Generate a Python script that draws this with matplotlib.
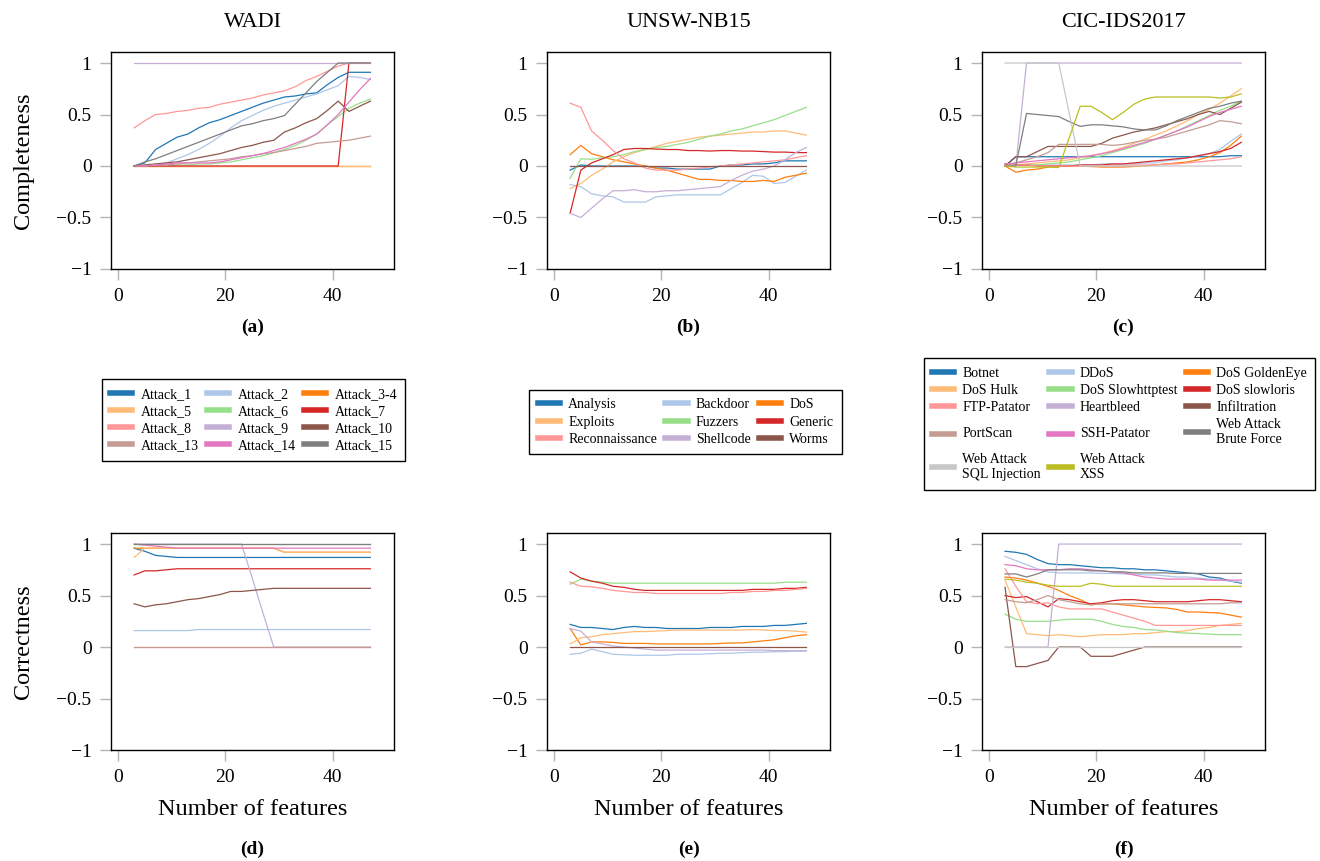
import matplotlib
matplotlib.use("Agg")
import matplotlib.pyplot as plt

plt.rcParams['font.family'] = ['Liberation Serif', 'DejaVu Serif']

n_features = [3, 5, 7, 9, 11, 13, 15, 17, 19, 21, 23, 25, 27, 29, 31, 33, 35, 37, 39, 41, 43, 45, 47]

palette = ['#1f77b4', '#aec7e8', '#ff7f0e', '#ffbb78', '#98df8a', '#d62728', '#ff9896',
           '#c5b0d5', '#8c564b', '#c49c94', '#e377c2', '#7f7f7f', '#c7c7c7', '#bcbd22']

# ---------------- WADI ----------------
wadi_names = ['Attack_1', 'Attack_2', 'Attack_3-4', 'Attack_5', 'Attack_6', 'Attack_7',
              'Attack_8', 'Attack_9', 'Attack_10', 'Attack_13', 'Attack_14', 'Attack_15']
wadi_compl = [
    [0, 0.03, 0.16, 0.22, 0.28, 0.31, 0.37, 0.42, 0.45, 0.49, 0.53, 0.57, 0.61, 0.64, 0.67, 0.68, 0.70, 0.71, 0.79, 0.86, 0.91, 0.91, 0.91],
    [0, 0, 0.01, 0.03, 0.07, 0.11, 0.16, 0.22, 0.29, 0.37, 0.44, 0.49, 0.54, 0.58, 0.61, 0.64, 0.67, 0.70, 0.74, 0.78, 0.87, 0.86, 0.84],
    [0, 0, 0, 0, 0, 0, 0, 0, 0, 0, 0, 0, 0, 0, 0, 0, 0, 0, 0, 0, 0, 0, 0],
    [0, 0, 0, 0, 0, 0, 0, 0, 0, 0, 0, 0, 0, 0, 0, 0, 0, 0, 0, 0, 0, 0, 0],
    [0, 0, 0, 0, 0.01, 0.01, 0.02, 0.02, 0.03, 0.04, 0.06, 0.08, 0.10, 0.13, 0.16, 0.20, 0.25, 0.31, 0.40, 0.48, 0.56, 0.61, 0.65],
    [0, 0, 0, 0, 0, 0, 0, 0, 0, 0, 0, 0, 0, 0, 0, 0, 0, 0, 0, 0, 1, 1, 1],
    [0.37, 0.44, 0.50, 0.51, 0.53, 0.54, 0.56, 0.57, 0.60, 0.62, 0.64, 0.66, 0.69, 0.71, 0.73, 0.77, 0.83, 0.87, 0.92, 0.97, 1, 1, 1],
    [1, 1, 1, 1, 1, 1, 1, 1, 1, 1, 1, 1, 1, 1, 1, 1, 1, 1, 1, 1, 1, 1, 1],
    [0, 0.01, 0.02, 0.03, 0.04, 0.06, 0.08, 0.10, 0.12, 0.15, 0.18, 0.20, 0.23, 0.25, 0.33, 0.37, 0.42, 0.46, 0.54, 0.63, 0.53, 0.58, 0.63],
    [0, 0, 0.01, 0.01, 0.02, 0.03, 0.04, 0.05, 0.06, 0.07, 0.09, 0.10, 0.12, 0.13, 0.15, 0.17, 0.19, 0.22, 0.23, 0.24, 0.25, 0.27, 0.29],
    [0, 0, 0.01, 0.02, 0.03, 0.03, 0.03, 0.03, 0.04, 0.06, 0.08, 0.10, 0.12, 0.15, 0.18, 0.22, 0.26, 0.31, 0.40, 0.50, 0.62, 0.74, 0.85],
    [0, 0.04, 0.07, 0.11, 0.15, 0.19, 0.23, 0.27, 0.31, 0.35, 0.39, 0.41, 0.44, 0.46, 0.49, 0.60, 0.71, 0.82, 0.91, 1, 1, 1, 1],
]
wadi_corr = [
    [0.96, 0.93, 0.89, 0.88, 0.87, 0.87, 0.87, 0.87, 0.87, 0.87, 0.87, 0.87, 0.87, 0.87, 0.87, 0.87, 0.87, 0.87, 0.87, 0.87, 0.87, 0.87, 0.87],
    [0.16, 0.16, 0.16, 0.16, 0.16, 0.16, 0.17, 0.17, 0.17, 0.17, 0.17, 0.17, 0.17, 0.17, 0.17, 0.17, 0.17, 0.17, 0.17, 0.17, 0.17, 0.17, 0.17],
    [0.96, 0.96, 0.96, 0.96, 0.96, 0.96, 0.96, 0.96, 0.96, 0.96, 0.96, 0.96, 0.96, 0.96, 0.92, 0.92, 0.92, 0.92, 0.92, 0.92, 0.92, 0.92, 0.92],
    [0.87, 0.96, 0.96, 0.96, 0.96, 0.96, 0.96, 0.96, 0.96, 0.96, 0.96, 0.96, 0.96, 0.96, 0.92, 0.92, 0.92, 0.92, 0.92, 0.92, 0.92, 0.92, 0.92],
    [1, 1, 1, 1, 1, 1, 1, 1, 1, 1, 1, 1, 1, 1, 1, 1, 1, 1, 1, 1, 1, 1, 1],
    [0.70, 0.74, 0.74, 0.75, 0.76, 0.76, 0.76, 0.76, 0.76, 0.76, 0.76, 0.76, 0.76, 0.76, 0.76, 0.76, 0.76, 0.76, 0.76, 0.76, 0.76, 0.76, 0.76],
    [0, 0, 0, 0, 0, 0, 0, 0, 0, 0, 0, 0, 0, 0, 0, 0, 0, 0, 0, 0, 0, 0, 0],
    [1, 1, 1, 1, 1, 1, 1, 1, 1, 1, 1, 0.67, 0.33, 0, 0, 0, 0, 0, 0, 0, 0, 0, 0],
    [0.42, 0.39, 0.41, 0.42, 0.44, 0.46, 0.47, 0.49, 0.51, 0.54, 0.54, 0.55, 0.56, 0.57, 0.57, 0.57, 0.57, 0.57, 0.57, 0.57, 0.57, 0.57, 0.57],
    [0, 0, 0, 0, 0, 0, 0, 0, 0, 0, 0, 0, 0, 0, 0, 0, 0, 0, 0, 0, 0, 0, 0],
    [1, 0.99, 0.98, 0.97, 0.96, 0.96, 0.96, 0.96, 0.96, 0.96, 0.96, 0.96, 0.96, 0.96, 0.96, 0.96, 0.96, 0.96, 0.96, 0.96, 0.96, 0.96, 0.96],
    [1, 1, 1, 1, 1, 1, 1, 1, 1, 1, 1, 1, 1, 1, 1, 1, 1, 1, 1, 1, 1, 1, 1],
]

# ---------------- UNSW-NB15 ----------------
unsw_names = ['Analysis', 'Backdoor', 'DoS', 'Exploits', 'Fuzzers', 'Generic',
              'Reconnaissance', 'Shellcode', 'Worms']
unsw_compl = [
    [-0.04, 0.01, 0, 0, 0, 0, 0, 0, -0.02, -0.02, -0.03, -0.03, -0.03, -0.03, 0, 0.01, 0.01, 0.02, 0.02, 0.03, 0.05, 0.05, 0.05],
    [-0.18, -0.20, -0.27, -0.29, -0.30, -0.35, -0.35, -0.35, -0.30, -0.29, -0.28, -0.28, -0.28, -0.28, -0.28, -0.22, -0.16, -0.09, -0.10, -0.17, -0.16, -0.10, -0.04],
    [0.11, 0.20, 0.12, 0.09, 0.06, 0.04, 0.02, 0, -0.02, -0.04, -0.07, -0.10, -0.13, -0.13, -0.14, -0.14, -0.15, -0.15, -0.14, -0.15, -0.11, -0.09, -0.07],
    [-0.22, -0.17, -0.09, -0.03, 0.04, 0.09, 0.13, 0.16, 0.19, 0.22, 0.24, 0.26, 0.28, 0.29, 0.30, 0.31, 0.32, 0.33, 0.33, 0.34, 0.34, 0.32, 0.30],
    [-0.12, 0.07, 0.065, 0.08, 0.09, 0.11, 0.14, 0.16, 0.18, 0.19, 0.21, 0.23, 0.26, 0.29, 0.31, 0.34, 0.36, 0.39, 0.42, 0.45, 0.49, 0.53, 0.57],
    [-0.46, -0.04, 0.03, 0.07, 0.11, 0.16, 0.17, 0.17, 0.165, 0.16, 0.16, 0.15, 0.15, 0.145, 0.15, 0.15, 0.145, 0.145, 0.14, 0.135, 0.135, 0.13, 0.13],
    [0.61, 0.57, 0.34, 0.25, 0.15, 0.07, 0.03, -0.02, -0.04, -0.04, -0.04, -0.03, -0.02, -0.01, 0, 0.01, 0.02, 0.03, 0.04, 0.05, 0.06, 0.08, 0.10],
    [-0.46, -0.50, -0.41, -0.32, -0.24, -0.24, -0.23, -0.25, -0.25, -0.24, -0.24, -0.23, -0.22, -0.21, -0.20, -0.14, -0.09, -0.05, -0.03, 0, 0.06, 0.13, 0.18],
    [0, 0, 0, 0, 0, 0, 0, 0, 0, 0, 0, 0, 0, 0, 0, 0, 0, 0, 0, 0, 0, 0, 0],
]
unsw_corr = [
    [0.22, 0.19, 0.19, 0.18, 0.17, 0.19, 0.20, 0.19, 0.19, 0.18, 0.18, 0.18, 0.18, 0.19, 0.19, 0.19, 0.20, 0.20, 0.20, 0.21, 0.21, 0.22, 0.23],
    [-0.07, -0.06, -0.02, -0.045, -0.07, -0.075, -0.08, -0.08, -0.08, -0.08, -0.07, -0.07, -0.07, -0.065, -0.06, -0.06, -0.055, -0.05, -0.05, -0.045, -0.045, -0.04, -0.04],
    [0.18, 0.02, 0.05, 0.05, 0.045, 0.035, 0.035, 0.035, 0.03, 0.03, 0.03, 0.03, 0.03, 0.03, 0.035, 0.04, 0.04, 0.05, 0.06, 0.07, 0.09, 0.11, 0.12],
    [0.03, 0.09, 0.10, 0.12, 0.13, 0.14, 0.15, 0.15, 0.155, 0.16, 0.165, 0.165, 0.165, 0.165, 0.165, 0.165, 0.165, 0.17, 0.165, 0.16, 0.16, 0.155, 0.145],
    [0.61, 0.66, 0.64, 0.63, 0.62, 0.62, 0.62, 0.62, 0.62, 0.62, 0.62, 0.62, 0.62, 0.62, 0.62, 0.62, 0.62, 0.62, 0.62, 0.62, 0.63, 0.63, 0.63],
    [0.73, 0.67, 0.64, 0.62, 0.59, 0.58, 0.56, 0.55, 0.55, 0.55, 0.55, 0.55, 0.55, 0.55, 0.55, 0.55, 0.55, 0.56, 0.56, 0.56, 0.57, 0.57, 0.58],
    [0.63, 0.59, 0.585, 0.57, 0.55, 0.54, 0.53, 0.53, 0.52, 0.52, 0.52, 0.52, 0.52, 0.52, 0.52, 0.53, 0.53, 0.54, 0.54, 0.55, 0.55, 0.56, 0.57],
    [0.18, 0.155, 0.05, 0.03, 0.01, 0, -0.01, -0.02, -0.03, -0.03, -0.03, -0.03, -0.03, -0.03, -0.03, -0.03, -0.03, -0.03, -0.03, -0.035, -0.035, -0.035, -0.035],
    [0, 0, 0, 0, 0, 0, 0, 0, 0, 0, 0, 0, 0, 0, 0, 0, 0, 0, 0, 0, 0, 0, 0],
]

# ---------------- CIC-IDS2017 ----------------
cic_names = ['Botnet', 'DDoS', 'DoS GoldenEye', 'DoS Hulk', 'DoS Slowhttptest', 'DoS slowloris',
             'FTP-Patator', 'Heartbleed', 'Infiltration', 'PortScan', 'SSH-Patator',
             'Web Attack\nBrute Force', 'Web Attack\nSQL Injection', 'Web Attack\nXSS']
cic_compl = [
    [0, 0.09, 0.09, 0.09, 0.09, 0.09, 0.09, 0.09, 0.09, 0.09, 0.09, 0.09, 0.09, 0.09, 0.09, 0.09, 0.09, 0.09, 0.09, 0.09, 0.09, 0.10, 0.10],
    [0.01, 0.01, 0.01, 0.01, 0.01, 0.01, 0.01, 0.01, 0.01, 0.02, 0.02, 0.02, 0.02, 0.03, 0.03, 0.05, 0.06, 0.08, 0.10, 0.12, 0.16, 0.24, 0.31],
    [0, -0.06, -0.04, -0.03, -0.01, 0, 0, 0, -0.005, -0.01, -0.01, -0.01, -0.005, 0, 0.01, 0.02, 0.03, 0.04, 0.06, 0.09, 0.13, 0.20, 0.29],
    [0, 0.01, 0.02, 0.03, 0.04, 0.05, 0.06, 0.08, 0.10, 0.12, 0.15, 0.18, 0.22, 0.26, 0.30, 0.34, 0.39, 0.44, 0.50, 0.55, 0.61, 0.68, 0.75],
    [0, 0.01, 0.01, 0.01, 0.02, 0.03, 0.04, 0.06, 0.08, 0.10, 0.13, 0.16, 0.19, 0.22, 0.26, 0.30, 0.34, 0.39, 0.44, 0.49, 0.54, 0.58, 0.63],
    [0.02, 0.01, 0.01, 0, 0, 0, 0, 0.01, 0.01, 0.01, 0.02, 0.02, 0.03, 0.04, 0.05, 0.06, 0.07, 0.08, 0.10, 0.12, 0.14, 0.17, 0.23],
    [0.02, 0.01, 0.01, 0, 0, 0, 0, 0, 0, 0, 0, 0, 0.01, 0.01, 0.01, 0.02, 0.02, 0.03, 0.04, 0.05, 0.06, 0.07, 0.09],
    [0, 0, 1, 1, 1, 1, 1, 1, 1, 1, 1, 1, 1, 1, 1, 1, 1, 1, 1, 1, 1, 1, 1],
    [0, 0.09, 0.09, 0.14, 0.19, 0.19, 0.19, 0.19, 0.19, 0.22, 0.27, 0.30, 0.33, 0.35, 0.37, 0.40, 0.43, 0.46, 0.50, 0.53, 0.50, 0.56, 0.62],
    [0, 0.03, 0.06, 0.09, 0.13, 0.21, 0.21, 0.21, 0.21, 0.21, 0.20, 0.21, 0.23, 0.25, 0.26, 0.28, 0.31, 0.34, 0.37, 0.40, 0.44, 0.43, 0.41],
    [0.02, 0.03, 0.04, 0.05, 0.06, 0.07, 0.08, 0.09, 0.10, 0.12, 0.14, 0.17, 0.20, 0.23, 0.26, 0.30, 0.34, 0.38, 0.43, 0.48, 0.52, 0.55, 0.58],
    [0, 0, 0.51, 0.50, 0.49, 0.48, 0.43, 0.385, 0.40, 0.40, 0.39, 0.38, 0.36, 0.35, 0.35, 0.39, 0.44, 0.48, 0.52, 0.56, 0.58, 0.61, 0.63],
    [1, 1, 1, 1, 1, 1, 0.5, 0, 0, 0, 0, 0, 0, 0, 0, 0, 0, 0, 0, 0, 0, 0, 0],
    [0, -0.01, -0.01, -0.01, -0.01, -0.015, 0.28, 0.58, 0.58, 0.52, 0.45, 0.52, 0.60, 0.65, 0.67, 0.67, 0.67, 0.67, 0.67, 0.67, 0.66, 0.67, 0.70],
]
cic_corr = [
    [0.93, 0.92, 0.90, 0.85, 0.81, 0.80, 0.80, 0.79, 0.78, 0.77, 0.77, 0.76, 0.76, 0.75, 0.75, 0.74, 0.73, 0.72, 0.71, 0.68, 0.67, 0.64, 0.62],
    [0.88, 0.84, 0.80, 0.76, 0.73, 0.72, 0.72, 0.72, 0.72, 0.715, 0.715, 0.71, 0.71, 0.70, 0.70, 0.69, 0.68, 0.68, 0.67, 0.66, 0.65, 0.64, 0.63],
    [0.68, 0.67, 0.65, 0.62, 0.59, 0.55, 0.50, 0.46, 0.41, 0.42, 0.42, 0.41, 0.40, 0.39, 0.385, 0.38, 0.365, 0.34, 0.34, 0.335, 0.33, 0.31, 0.29],
    [0.65, 0.39, 0.13, 0.12, 0.11, 0.12, 0.11, 0.10, 0.11, 0.12, 0.12, 0.12, 0.13, 0.13, 0.14, 0.15, 0.15, 0.16, 0.18, 0.19, 0.21, 0.22, 0.23],
    [0.32, 0.27, 0.25, 0.25, 0.25, 0.26, 0.27, 0.27, 0.27, 0.25, 0.22, 0.20, 0.19, 0.17, 0.165, 0.155, 0.14, 0.135, 0.13, 0.125, 0.12, 0.12, 0.12],
    [0.50, 0.48, 0.49, 0.44, 0.39, 0.47, 0.46, 0.44, 0.42, 0.43, 0.45, 0.46, 0.46, 0.45, 0.44, 0.44, 0.44, 0.44, 0.45, 0.46, 0.46, 0.45, 0.44],
    [0.76, 0.59, 0.44, 0.42, 0.43, 0.39, 0.37, 0.37, 0.37, 0.37, 0.34, 0.31, 0.28, 0.25, 0.21, 0.21, 0.21, 0.21, 0.21, 0.21, 0.21, 0.21, 0.21],
    [0, 0, 0, 0, 0, 1, 1, 1, 1, 1, 1, 1, 1, 1, 1, 1, 1, 1, 1, 1, 1, 1, 1],
    [0.58, -0.19, -0.19, -0.16, -0.13, 0, 0, 0, -0.09, -0.09, -0.09, -0.06, -0.03, 0, 0, 0, 0, 0, 0, 0, 0, 0, 0],
    [0.46, 0.44, 0.43, 0.46, 0.50, 0.46, 0.44, 0.42, 0.41, 0.42, 0.42, 0.42, 0.42, 0.42, 0.42, 0.42, 0.42, 0.42, 0.42, 0.42, 0.42, 0.43, 0.43],
    [0.80, 0.79, 0.76, 0.75, 0.75, 0.75, 0.76, 0.76, 0.75, 0.74, 0.73, 0.72, 0.70, 0.68, 0.67, 0.66, 0.66, 0.66, 0.66, 0.65, 0.65, 0.65, 0.65],
    [0.71, 0.71, 0.68, 0.71, 0.75, 0.75, 0.75, 0.75, 0.74, 0.74, 0.73, 0.73, 0.72, 0.72, 0.72, 0.72, 0.715, 0.715, 0.715, 0.715, 0.715, 0.715, 0.715],
    [0, 0, 0, 0, 0, 0, 0, 0, 0, 0, 0, 0, 0, 0, 0, 0, 0, 0, 0, 0, 0, 0, 0],
    [0.66, 0.65, 0.63, 0.62, 0.60, 0.59, 0.59, 0.59, 0.62, 0.61, 0.59, 0.59, 0.59, 0.59, 0.59, 0.59, 0.59, 0.59, 0.59, 0.59, 0.59, 0.59, 0.59],
]

datasets = [
    ('WADI', wadi_names, wadi_compl, wadi_corr),
    ('UNSW-NB15', unsw_names, unsw_compl, unsw_corr),
    ('CIC-IDS2017', cic_names, cic_compl, cic_corr),
]
panel_letters = [['(a)', '(b)', '(c)'], ['(d)', '(e)', '(f)']]

fig = plt.figure(figsize=(13.2, 8.61), dpi=100)
lefts = [0.0841, 0.4144, 0.7439]
bottoms = [0.6876, 0.1289]
w, h = 0.2144, 0.252

# legend centres (figure fraction)
leg_pos = [(253.5 / 1320, 1 - 420 / 861), (685.5 / 1320, 1 - 422 / 861), (1119.5 / 1320, 1 - 424 / 861)]


def row_major(items, ncol):
    # legend fills column by column, reorder so entries read row by row
    return [it for c in range(ncol) for it in items[c::ncol]]


for col, (title, names, compl, corr) in enumerate(datasets):
    for row, values in enumerate([compl, corr]):
        ax = fig.add_axes([lefts[col], bottoms[row], w, h])
        handles = []
        for i, (name, ys) in enumerate(zip(names, values)):
            ln, = ax.plot(n_features, ys, color=palette[i], lw=0.9, label=name)
            handles.append(ln)
        ax.set_xlim(-1.3, 51.4)
        ax.set_ylim(-1, 1.107)
        ax.set_xticks([0, 20, 40])
        ax.set_yticks([-1, -0.5, 0, 0.5, 1])
        ax.set_yticklabels(['\u22121', '\u22120.5', '0', '0.5', '1'])
        ax.tick_params(direction='out', length=8, width=1, color='#b5b5b5',
                       labelsize=14, pad=6)
        for sp in ax.spines.values():
            sp.set_linewidth(1)
            sp.set_color('black')
        if row == 0:
            ax.set_title(title, fontsize=16, pad=18)
            ax.text(0.5, -0.27, panel_letters[row][col], transform=ax.transAxes,
                    ha='center', va='center', fontsize=14, fontweight='bold')
            hs = row_major(handles, 3)
            labels = [h_.get_label() for h_ in hs]
            # single-line labels sharing a row with two-line ones get two-line height
            if col == 2:
                labels = ['\n' + lb + '\n' if lb in ('PortScan', 'SSH-Patator') else lb for lb in labels]
            leg = fig.legend(hs, labels, loc='center',
                             bbox_to_anchor=leg_pos[col], ncol=3, fontsize=10,
                             frameon=True, fancybox=False, edgecolor='black',
                             handlelength=1.6, handletextpad=0.6, columnspacing=0.6,
                             labelspacing=0.3, borderpad=0.6, framealpha=1)
            for t in leg.get_texts():
                if t.get_text().startswith('\n'):
                    t.set_linespacing(0.6)
        else:
            ax.set_xlabel('Number of features', fontsize=17.5, labelpad=9)
            ax.text(0.5, -0.46, panel_letters[row][col], transform=ax.transAxes,
                    ha='center', va='center', fontsize=14, fontweight='bold')
        if col == 0:
            ax.set_ylabel('Completeness' if row == 0 else 'Correctness',
                          fontsize=17.5, labelpad=16)

# thicker legend handles
for leg in fig.legends:
    leg.get_frame().set_linewidth(1)
    for ln in leg.get_lines():
        ln.set_linewidth(4)

fig.savefig('out.png', dpi=100)
